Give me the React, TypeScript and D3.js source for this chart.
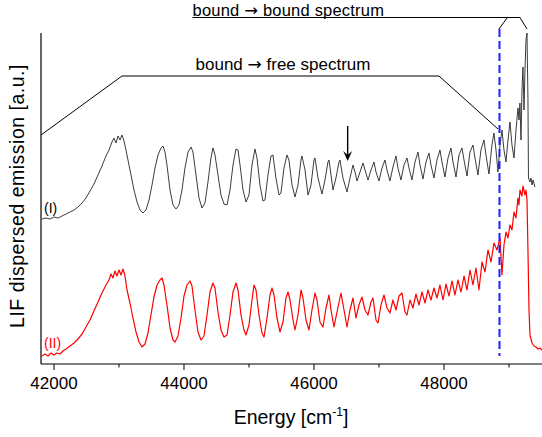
import React from "react";
import * as d3 from "d3";

// Spectrum (I): [energy cm^-1, intensity a.u.]
const spectrumI: [number, number][] = [
  [41815,145],[41877,146],[41938,145],[42000,147],[42062,146],[42123,148],[42185,150],[42246,152],[42308,154],[42369,157],
  [42431,161],[42492,166],[42554,173],[42615,180],[42677,189],[42738,198],[42800,208],[42846,214],[42892,222],[42923,226],
  [42954,221],[42985,228],[43015,224],[43046,229],[43077,223],[43108,214],[43138,204],[43185,189],[43231,174],[43277,162],
  [43323,154],[43369,151],[43415,154],[43462,164],[43508,179],[43554,196],[43600,209],[43646,216],[43677,218],[43708,212],
  [43738,199],[43785,174],[43831,159],[43877,155],[43923,159],[43969,174],[44015,196],[44062,212],[44108,217],[44138,212],
  [44185,189],[44231,166],[44277,156],[44323,161],[44369,182],[44415,206],[44446,216],[44477,209],[44523,189],[44569,169],
  [44615,160],[44662,159],[44708,174],[44754,199],[44800,215],[44831,214],[44862,199],[44908,174],[44954,162],[45000,169],
  [45046,199],[45092,215],[45123,206],[45169,179],[45215,163],[45246,164],[45292,189],[45338,208],[45369,209],[45415,186],
  [45462,169],[45492,171],[45538,196],[45585,209],[45615,204],[45662,179],[45708,167],[45754,179],[45800,204],[45815,208],
  [45862,194],[45908,169],[45954,179],[46000,204],[46015,206],[46062,186],[46123,170],[46169,184],[46215,202],[46231,204],
  [46262,189],[46292,174],[46338,186],[46385,202],[46400,204],[46446,186],[46508,172],
  [46554,186],[46600,199],[46631,192],[46662,183],[46708,192],[46754,201],[46785,194],[46831,184],[46877,194],[46923,202],
  [46954,192],[47000,183],[47046,196],[47092,204],[47123,194],[47169,183],[47215,197],[47262,208],[47292,196],[47338,184],
  [47385,199],[47431,206],[47462,196],[47508,184],[47554,202],[47600,212],[47631,199],[47677,185],[47723,202],[47769,211],
  [47800,199],[47846,186],[47892,204],[47938,214],[47969,202],[48015,187],[48062,206],[48108,216],[48138,202],[48185,187],
  [48231,209],[48277,216],[48308,204],[48354,188],[48400,212],[48446,219],[48477,206],[48523,189],[48569,214],[48615,224],
  [48646,209],[48692,190],[48738,219],[48769,231],[48800,214],[48831,192],[48862,219],[48892,234],[48923,214],[48954,202],
  [48985,224],[49015,242],[49046,219],[49077,206],[49108,234],[49138,256],[49154,244],[49169,261],[49185,224],[49200,274],
  [49215,297],[49231,254],[49246,294],[49262,324],[49277,331],[49292,264],[49300,186],[49323,182],[49338,186],[49354,179],
  [49369,184],[49400,177],
];

// Spectrum (II)
const spectrumII: [number, number][] = [
  [41815,8],[41862,10],[41908,8],[41954,11],[42000,9],[42046,11],[42092,10],[42138,13],[42185,15],[42246,18],
  [42308,21],[42369,25],[42431,30],[42492,37],[42554,44],[42615,53],[42677,62],[42738,71],[42800,79],[42846,84],
  [42877,90],[42908,86],[42938,93],[42969,88],[43000,94],[43031,89],[43062,95],[43092,88],[43123,74],[43169,61],
  [43215,46],[43262,32],[43308,22],[43354,17],[43400,20],[43446,31],[43492,49],[43538,67],[43585,79],[43631,84],
  [43662,86],[43692,79],[43738,59],[43785,36],[43831,24],[43862,22],[43908,28],[43954,46],[44000,68],[44046,79],
  [44092,83],[44123,78],[44169,54],[44215,32],[44262,24],[44308,28],[44354,49],[44400,72],[44446,81],[44477,76],
  [44523,52],[44569,34],[44615,27],[44662,29],[44708,49],[44754,72],[44800,81],[44831,74],[44877,49],[44923,34],
  [44954,29],[45000,39],[45046,64],[45077,79],[45108,74],[45154,49],[45200,31],[45231,27],[45277,46],[45323,69],
  [45354,76],[45385,69],[45431,46],[45477,32],[45523,42],[45569,66],[45600,72],[45631,64],[45677,44],[45708,34],
  [45754,49],[45800,74],[45831,66],[45877,44],[45923,34],[45969,54],[46015,71],[46046,64],[46092,42],[46138,37],
  [46185,56],[46231,69],[46262,54],[46308,37],[46354,52],[46415,71],[46462,54],[46508,37],[46554,54],[46600,66],
  [46646,46],[46692,59],[46738,67],[46785,54],[46831,49],[46877,62],[46908,66],[46954,44],[46985,41],[47031,59],
  [47077,69],[47123,56],[47169,51],[47215,64],[47262,54],[47308,68],[47354,71],[47400,52],[47431,49],[47477,64],
  [47523,56],[47569,70],[47615,59],[47662,72],[47708,61],[47754,74],[47800,64],[47846,76],[47892,66],[47938,79],
  [47985,64],[48031,80],[48077,68],[48123,83],[48169,69],[48215,84],[48262,72],[48308,88],[48354,74],[48400,94],
  [48446,79],[48492,96],[48538,74],[48585,102],[48631,92],[48677,114],[48723,102],[48769,121],[48815,114],[48862,126],
  [48892,89],[48923,119],[48954,132],[48985,126],[49015,139],[49046,134],[49077,152],[49108,146],[49138,166],[49154,159],
  [49169,174],[49200,168],[49215,178],[49246,169],[49262,174],[49277,164],[49292,114],[49308,54],[49323,29],[49354,21],
  [49385,18],[49415,17],[49446,15],[49477,16],[49508,14],
];

const majorTicks = [42000, 44000, 46000, 48000];
const minorTicks = [43000, 45000, 47000, 49000];

// annotation anchors in data units
const freeBracket: [number, number][] = [[41800, 229], [43046, 288], [47923, 288], [48831, 235]];
const boundBracketTop: [number, number][] = [[44131, 346.5], [49169, 346.5]];
const boundBranchLeft: [number, number][] = [[48977, 346.5], [48846, 335]];
const boundBranchRight: [number, number][] = [[49169, 346.5], [49277, 335]];
const thresholdE = 48854;
const thresholdV: [number, number] = [8, 335];
const arrowE = 46518;
const arrowV: [number, number] = [238, 203];

const W = 542, H = 437;
const FONT = "Arial, 'Liberation Sans', sans-serif";
const ARROW_FONT = "'DejaVu Sans', sans-serif";

export default function App() {
  const x = d3.scaleLinear().domain([41800, 49508]).range([41, 542]);
  const y = d3.scaleLinear().domain([0, 331]).range([364, 33]);
  const line = d3.line<[number, number]>().x(d => x(d[0])).y(d => y(d[1]));

  const ax = x(arrowE);
  const ay1 = y(arrowV[0]);
  const ay2 = y(arrowV[1]);

  return (
    <svg width={W} height={H} style={{ position: "absolute", left: 0, top: 0, background: "#fff" }}
      fontFamily={FONT}>
      {/* spectra */}
      <path d={line(spectrumI) || ""} fill="none" stroke="#262626" strokeWidth={0.9} strokeLinejoin="round" />
      <path d={line(spectrumII) || ""} fill="none" stroke="#ff0000" strokeWidth={1.2} strokeLinejoin="round" />

      {/* axes */}
      <line x1={41} x2={41} y1={33} y2={364} stroke="#000" strokeWidth={1.2} />
      <line x1={41} x2={542} y1={364} y2={364} stroke="#000" strokeWidth={1.2} />
      {majorTicks.map(t => (
        <g key={t}>
          <line x1={x(t)} x2={x(t)} y1={364} y2={370} stroke="#000" strokeWidth={1} />
          <text x={x(t)} y={389} textAnchor="middle" fontSize={17} fill="#000">{t}</text>
        </g>
      ))}
      {minorTicks.map(t => (
        <line key={t} x1={x(t)} x2={x(t)} y1={364} y2={367.5} stroke="#000" strokeWidth={1} />
      ))}
      <text x={291} y={424} textAnchor="middle" fontSize={19.5} fill="#000">
        Energy [cm<tspan dy={-8} fontSize={12}>-1</tspan><tspan dy={8}>]</tspan>
      </text>
      <text transform={`translate(24,196) rotate(-90)`} textAnchor="middle" fontSize={19.5}
        letterSpacing={0.5} fill="#000">
        LIF dispersed emission [a.u.]
      </text>

      {/* labels */}
      <text x={44} y={213} fontSize={14} fill="#000">(I)</text>
      <text x={44} y={348} fontSize={14} fill="#ff0000">(II)</text>

      {/* bound-free bracket */}
      <path d={line(freeBracket) || ""} fill="none" stroke="#000" strokeWidth={1} />
      <text x={283} y={70} textAnchor="middle" fontSize={17} fill="#000">
        bound <tspan fontFamily={ARROW_FONT}>→</tspan> free spectrum
      </text>

      {/* bound-bound bracket */}
      <path d={line(boundBracketTop) || ""} fill="none" stroke="#000" strokeWidth={1} />
      <path d={line(boundBranchLeft) || ""} fill="none" stroke="#000" strokeWidth={1} />
      <path d={line(boundBranchRight) || ""} fill="none" stroke="#000" strokeWidth={1} />
      <text x={x(44131)} y={15.5} fontSize={16.5} letterSpacing={0.2} fill="#000">
        bound <tspan fontFamily={ARROW_FONT}>→</tspan> bound spectrum
      </text>

      {/* threshold */}
      <line x1={x(thresholdE)} x2={x(thresholdE)} y1={y(thresholdV[1])} y2={y(thresholdV[0])}
        stroke="#1f1fff" strokeWidth={2} strokeDasharray="8,4" />

      {/* arrow */}
      <line x1={ax} x2={ax} y1={ay1} y2={ay2 - 6} stroke="#000" strokeWidth={1.4} />
      <path d={`M${ax - 4.5},${ay2 - 10} L${ax},${ay2} L${ax + 4.5},${ay2 - 10} L${ax},${ay2 - 6} Z`} fill="#000" />
    </svg>
  );
}
